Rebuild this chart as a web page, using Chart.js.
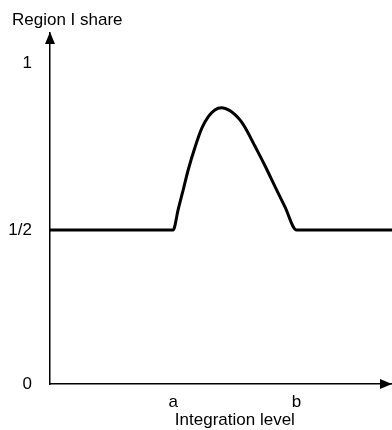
<!DOCTYPE html>
<html>
<head>
<meta charset="utf-8">
<script src="https://cdn.jsdelivr.net/npm/chart.js@4.4.1/dist/chart.umd.min.js"></script>
<style>
  html, body { margin: 0; padding: 0; background: #fff; }
  #wrap { width: 392px; height: 430px; position: relative; }
</style>
</head>
<body>
<div id="wrap"><canvas id="chart"></canvas></div>
<script>
// curve (x in axis units 0..10, y as share)
var levels = [0, 3.6, 3.75, 3.9, 4.04, 4.24, 4.44, 4.63, 4.82, 5.02, 5.26, 5.41, 5.56, 5.70, 5.99, 6.29, 6.58, 6.87, 7.21, 10];
var shares = [0.5, 0.5, 0.568, 0.633, 0.695, 0.769, 0.831, 0.868, 0.890, 0.897, 0.888, 0.875, 0.857, 0.834, 0.773, 0.708, 0.641, 0.575, 0.5, 0.5];

// tick labels and where they sit
var xTickValues = [3.6, 7.21];
var xTickLabels = ["a", "b"];
var yTickValues = [0, 0.5, 1.04];
var yTickLabels = ["0", "1/2", "1"];

var xTitle = "Integration level";
var yTitle = "Region I share";

Chart.defaults.font.family = "'Liberation Sans', Arial, sans-serif";
Chart.defaults.font.size = 17;
Chart.defaults.color = "#000";

var points = levels.map(function (x, i) { return { x: x, y: shares[i] }; });

// arrowheads on the axes + the two axis captions
var axisDecor = {
  id: 'axisDecor',
  afterDraw: function (chart) {
    var ctx = chart.ctx, a = chart.chartArea;
    var xs = chart.scales.x;
    ctx.save();
    ctx.fillStyle = "#000";
    // y arrow
    ctx.beginPath();
    ctx.moveTo(a.left, a.top - 1);
    ctx.lineTo(a.left - 5, a.top + 11);
    ctx.lineTo(a.left + 5, a.top + 11);
    ctx.closePath();
    ctx.fill();
    // x arrow
    ctx.beginPath();
    ctx.moveTo(a.right, a.bottom);
    ctx.lineTo(a.right - 12, a.bottom - 5);
    ctx.lineTo(a.right - 12, a.bottom + 5);
    ctx.closePath();
    ctx.fill();

    ctx.font = "17px 'Liberation Sans', Arial, sans-serif";
    ctx.textBaseline = "middle";
    ctx.textAlign = "left";
    ctx.fillText(yTitle, a.left - 38, 20);
    ctx.textAlign = "center";
    var mid = (xs.getPixelForValue(xTickValues[0]) + xs.getPixelForValue(xTickValues[1])) / 2;
    ctx.fillText(xTitle, mid, 420);
    ctx.restore();
  }
};

new Chart(document.getElementById("chart"), {
  type: 'line',
  data: {
    datasets: [{
      data: points,
      borderColor: "#000",
      borderWidth: 3,
      pointRadius: 0,
      cubicInterpolationMode: 'monotone',
      fill: false,
      clip: false
    }]
  },
  options: {
    responsive: true,
    maintainAspectRatio: false,
    animation: false,
    layout: { padding: { top: 33, right: 0, left: 0, bottom: 0 } },
    plugins: {
      legend: { display: false },
      tooltip: { enabled: false }
    },
    scales: {
      x: {
        type: 'linear',
        min: 0,
        max: 10,
        grid: { display: false },
        border: { display: true, color: "#000", width: 1.5 },
        afterBuildTicks: function (axis) {
          axis.ticks = xTickValues.map(function (v) { return { value: v }; });
        },
        afterFit: function (axis) { axis.height = 46; },
        ticks: {
          padding: 0,
          autoSkip: false,
          maxRotation: 0,
          callback: function (value) {
            var i = xTickValues.indexOf(value);
            return i >= 0 ? xTickLabels[i] : "";
          }
        }
      },
      y: {
        type: 'linear',
        min: 0,
        max: 1.14,
        grid: { display: false },
        border: { display: true, color: "#000", width: 1.5 },
        afterBuildTicks: function (axis) {
          axis.ticks = yTickValues.map(function (v) { return { value: v }; });
        },
        afterFit: function (axis) { axis.width = 50; },
        ticks: {
          padding: 10,
          autoSkip: false,
          callback: function (value) {
            var i = yTickValues.indexOf(value);
            return i >= 0 ? yTickLabels[i] : "";
          }
        }
      }
    }
  },
  plugins: [axisDecor]
});
</script>
</body>
</html>
